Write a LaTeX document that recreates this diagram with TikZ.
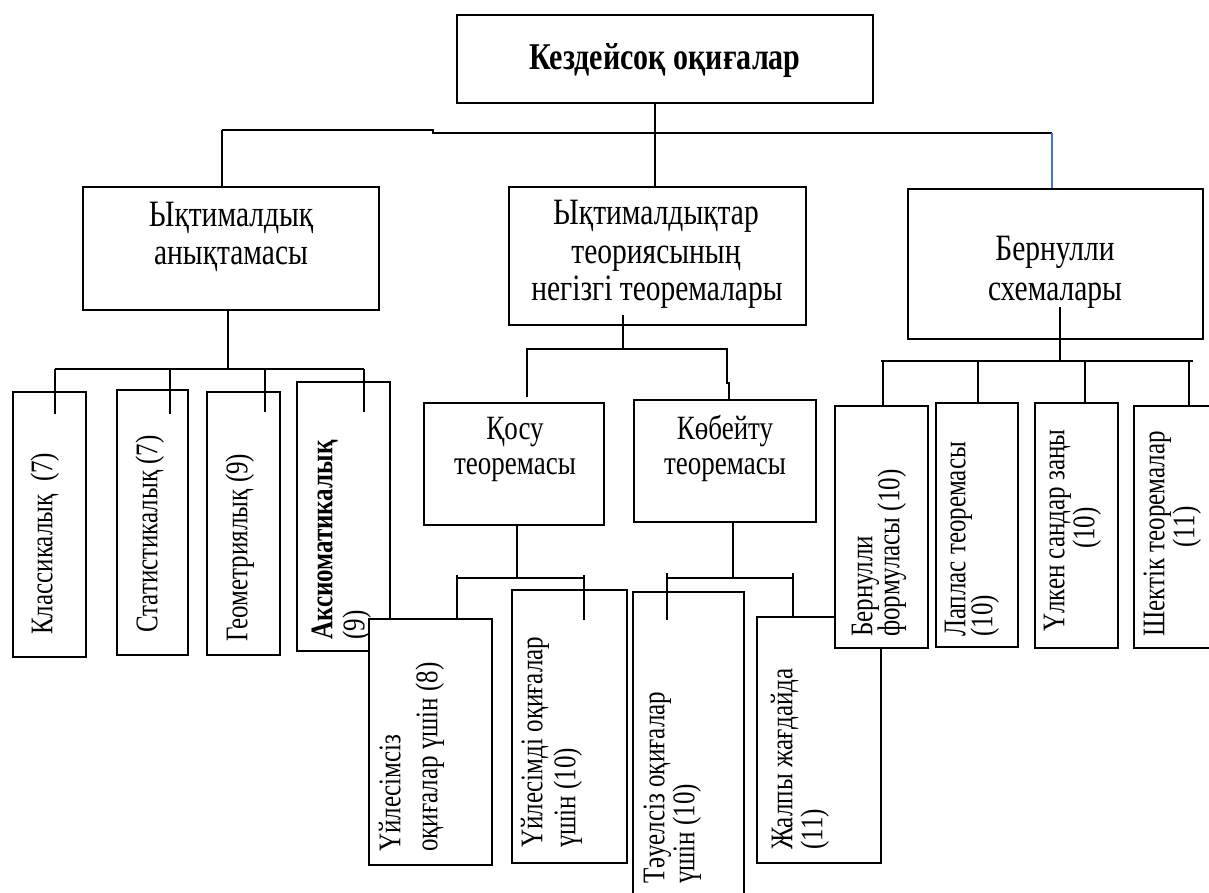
\documentclass[tikz,border=0pt]{standalone}
\usepackage{fontspec}
\usepackage{graphicx}
\setmainfont{Liberation Serif}
\definecolor{accentblue}{RGB}{68,114,196}
\newcommand\tx[1]{\scalebox{1}[1.26]{#1}}
\tikzset{
  box/.style={draw, fill=white, line width=1.8pt, inner sep=0pt},
  conn/.style={line width=1.8pt},
  bconn/.style={line width=1.8pt, draw=accentblue},
  vt/.style={rotate=90, anchor=mid west, inner sep=0pt, font=\fontsize{25}{30}\selectfont},
  vtc/.style={rotate=90, anchor=mid, inner sep=0pt, font=\fontsize{25}{30}\selectfont},
  ht/.style={anchor=base, inner sep=0pt, font=\fontsize{29.5}{36}\selectfont},
  hts/.style={anchor=base, inner sep=0pt, font=\fontsize{27}{32}\selectfont},
}
\newcommand\mkbox[5]{\node[box, minimum width={#4pt-#2pt}, minimum height={#5pt-#3pt}] (#1) at ({(#2+#4)/2},{(#3+#5)/2}) {};}
\begin{document}
\begin{tikzpicture}[x=1pt,y=-1pt]
\useasboundingbox (0,0) rectangle (1209,893);
\clip (0,0) rectangle (1209,893);
\fill[white] (0,0) rectangle (1209,893);

% top level
\mkbox{top}{457}{15}{873}{103}
\node[ht, font=\fontsize{30}{36}\selectfont\bfseries] (ttop) at (665,70) {\tx{Кездейсоқ оқиғалар}};

\mkbox{lbox}{83}{187}{379}{310}
\node[ht] (tl1) at (231,227) {\tx{Ықтималдық}};
\node[ht] (tl2) at (231,265) {\tx{анықтамасы}};

\mkbox{mbox}{509}{187}{806}{325}
\node[ht] (tm1) at (656,225) {\tx{Ықтималдықтар}};
\node[ht] (tm2) at (656,263) {\tx{теориясының}};
\node[ht] (tm3) at (657,300) {\tx{негізгі теоремалары}};

\mkbox{rbox}{908}{189}{1203}{339}
\node[ht] (tr1) at (1055,260) {\tx{Бернулли}};
\node[ht] (tr2) at (1055,300) {\tx{схемалары}};

\mkbox{add}{424}{403}{604}{525}
\node[hts] (ta1) at (515,439) {\tx{Қосу}};
\node[hts] (ta2) at (515,474) {\tx{теоремасы}};

\mkbox{mul}{634}{400}{816}{522}
\node[hts] (tk1) at (725,439) {\tx{Көбейту}};
\node[hts] (tk2) at (725,474) {\tx{теоремасы}};

% left children
\mkbox{c1}{13}{392}{86}{657}
\node[vt] (tc1) at (50,635) {\tx{Классикалық\ \ (7)}};
\mkbox{c2}{117}{390}{188}{655}
\node[vt] (tc2) at (155,633) {\tx{Статистикалық (7)}};
\mkbox{c3}{207}{392}{280}{655}
\node[vt] (tc3) at (245,642) {\tx{Геометриялық (9)}};
\mkbox{c4}{297}{382}{390}{651}
\node[vt, font=\fontsize{25}{30}\selectfont\bfseries] (tc4a) at (330,640) {\tx{Аксиоматикалық}};
\node[vt] (tc4b) at (362,640) {\tx{(9)}};

% middle children
\mkbox{u1}{369}{619}{492}{865}
\node[vt] (tu1a) at (398,852) {\tx{Үйлесімсіз}};
\node[vt] (tu1b) at (435,852) {\tx{оқиғалар үшін (8)}};
\mkbox{u2}{512}{590}{627}{863}
\node[vt] (tu2a) at (540,848) {\tx{Үйлесімді оқиғалар}};
\node[vt] (tu2b) at (573,848) {\tx{үшін (10)}};
\mkbox{ind}{633}{592}{744}{905}
\node[vt] (tia) at (662,884) {\tx{Тәуелсіз оқиғалар}};
\node[vt] (tib) at (692,884) {\tx{үшін (10)}};
\mkbox{gen}{757}{617}{881}{863}
\node[vt] (tga) at (790,850) {\tx{Жалпы жағдайда}};
\node[vt] (tgb) at (820,850) {\tx{(11)}};

% right children
\mkbox{bf}{835}{406}{928}{648}
\node[vt] (tba) at (870,637) {\tx{Бернулли}};
\node[vt] (tbb) at (897,637) {\tx{формуласы (10)}};
\mkbox{lp}{936}{403}{1018}{647}
\node[vt] (tla) at (963,637) {\tx{Лаплас теоремасы}};
\node[vt] (tlb) at (990,637) {\tx{(10)}};
\mkbox{ul}{1035}{403}{1118}{648}
\node[vt] (tua) at (1062,632) {\tx{Үлкен сандар заңы}};
\node[vtc] (tub) at (1092,528) {\tx{(10)}};
\mkbox{sh}{1134}{406}{1215}{648}
\node[vt] (tsa) at (1162,637) {\tx{Шектік теоремалар}};
\node[vtc] (tsb) at (1192,527) {\tx{(11)}};

% connectors: top level
\coordinate (bA) at (222,130);
\coordinate (bB) at (433,130);
\coordinate (bC) at (433,133);
\coordinate (bD) at (1052,133);
\coordinate (bM) at (655,133);
\draw[conn] (bA) -- (bB) -- (bC) -- (bD);
\draw[conn] (top.south -| bM) -- (mbox.north -| bM);
\draw[conn] (bA) -- (lbox.north -| bA);
\draw[bconn] (bD) -- (rbox.north -| bD);

% left subtree
\coordinate (lj) at (228,369);
\coordinate (l1) at (55,369);
\coordinate (l2) at (170,369);
\coordinate (l3) at (265,369);
\coordinate (l4) at (364,369);
\draw[conn] (lbox.south -| lj) -- (lj);
\draw[conn] (l1) -- (l4);
\draw[conn] (l1) -- ++(0,45);
\draw[conn] (l2) -- ++(0,45);
\draw[conn] (l3) -- ++(0,43);
\draw[conn] (l4) -- ++(0,43);

% middle subtree
\coordinate (mj) at (623,315);
\coordinate (mb) at (623,349);
\coordinate (m1) at (527,349);
\coordinate (m2) at (727,349);
\coordinate (m3) at (729,383);
\draw[conn] (mj) -- (mb);
\draw[conn] (527,397) -- (m1) -- (m2) -- (727,383) -- (m3) -- (mul.north -| m3);

% add subtree
\coordinate (aj) at (517,578);
\coordinate (a1) at (457,578);
\coordinate (a2) at (584,578);
\draw[conn] (add.south -| aj) -- (aj);
\draw[conn] (a1) -- (a2);
\draw[conn] (457,575) -- (u1.north -| a1);
\draw[conn] (584,575) -- (584,620);

% mul subtree
\coordinate (kj) at (733,578);
\coordinate (k1) at (667,578);
\coordinate (k2) at (793,578);
\draw[conn] (mul.south -| kj) -- (kj);
\draw[conn] (k1) -- (k2);
\draw[conn] (667,573) -- (667,620);
\draw[conn] (793,573) -- (gen.north -| k2);

% right subtree
\coordinate (rj) at (1060,307);
\coordinate (rb) at (1060,361);
\coordinate (r0) at (881,361);
\coordinate (r1) at (883,361);
\coordinate (r2) at (978,361);
\coordinate (r3) at (1085,361);
\coordinate (r4) at (1189,361);
\coordinate (r5) at (1193,361);
\draw[conn] (rj) -- (rb);
\draw[conn] (r0) -- (r5);
\draw[conn] (r1) -- (bf.north -| r1);
\draw[conn] (r2) -- (lp.north -| r2);
\draw[conn] (r3) -- (ul.north -| r3);
\draw[conn] (r4) -- (sh.north -| r4);
\end{tikzpicture}
\end{document}
